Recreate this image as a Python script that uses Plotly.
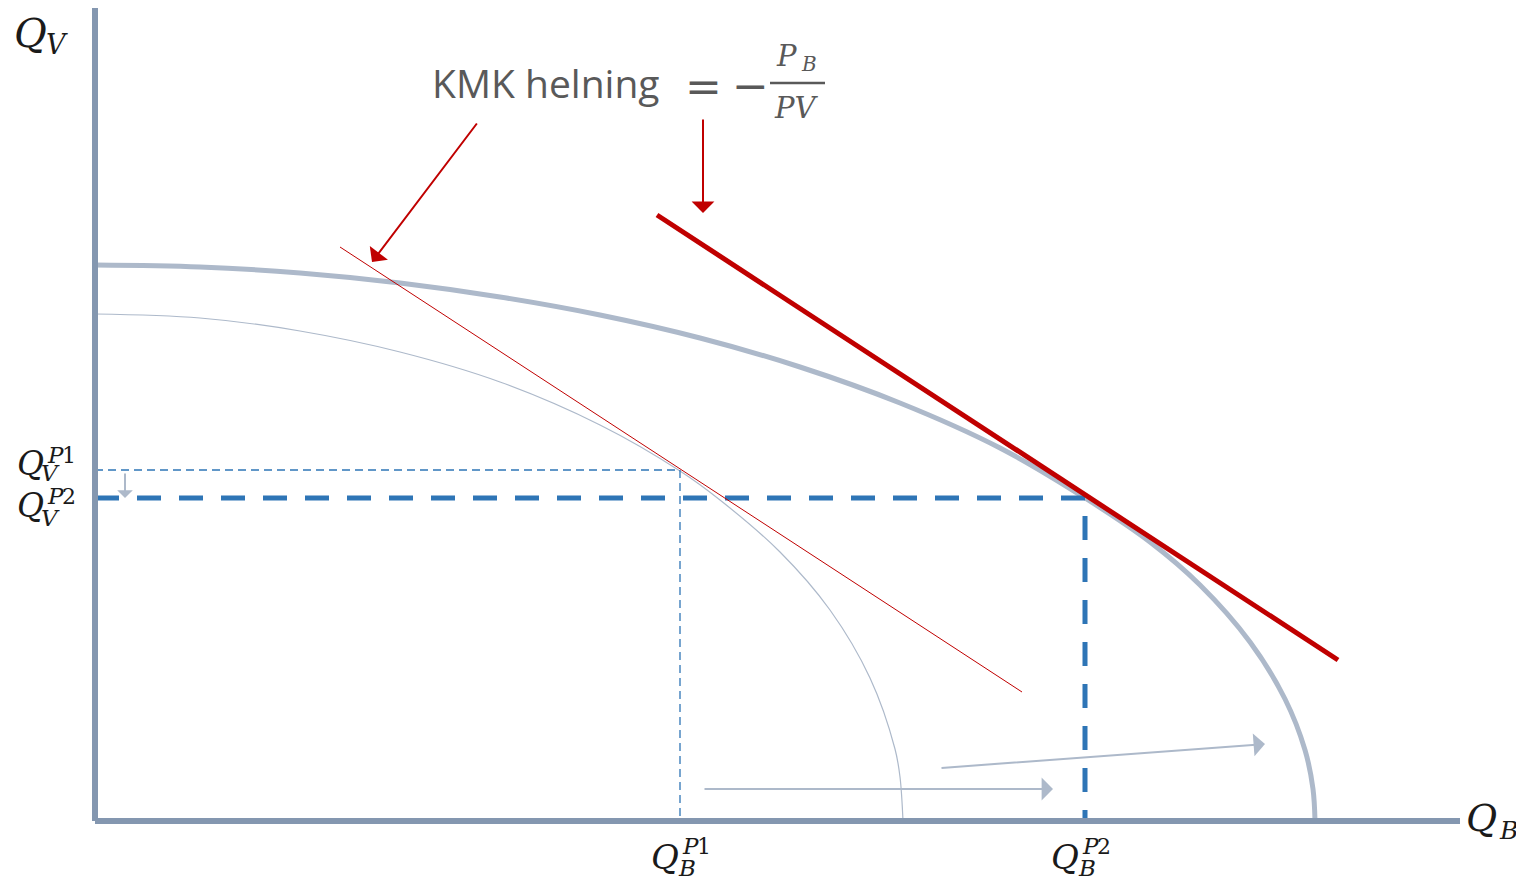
import plotly.graph_objects as go

# ---- data (units: quantity of B on x, quantity of V on y) ----
outer_ppf_x = [0, 10.5, 20.5, 30.5, 40.5, 50.5, 60.5, 70.5, 80.5, 90.5, 99.0, 105.5, 110.5, 115.5, 119.0, 121.0, 121.8, 122.0]
outer_ppf_y = [55.6, 55.4, 54.8, 53.8, 52.4, 50.6, 48.3, 45.4, 41.8, 37.3, 32.3, 27.9, 23.6, 17.9, 12.2, 7.1, 3.2, 0]
inner_ppf_x = [0, 10.5, 20.5, 30.5, 40.5, 50.5, 58.5, 62.5, 68.5, 73.5, 77.5, 80.0, 80.5, 80.8]
inner_ppf_y = [50.7, 50.3, 49.0, 46.9, 43.9, 39.6, 35.0, 32.1, 26.9, 21.1, 14.3, 7.2, 4.4, 0]
price_line_new_x = [56.2, 124.3]
price_line_new_y = [60.6, 16.1]
price_line_old_x = [24.5, 92.7]
price_line_old_y = [57.4, 12.9]
qb_p1, qv_p1 = 58.5, 35.1
qb_p2, qv_p2 = 99.0, 32.3
axis_x_max, axis_y_max = 136.5, 81.3

# arrows: (tail_x, tail_y, head_x, head_y)
red_arrows = [(38.3, 69.9, 27.7, 55.9), (60.8, 70.3, 60.8, 60.8)]
gray_arrows = [(60.8, 3.2, 95.8, 3.2), (84.5, 5.3, 117.0, 7.7)]
small_arrow = (3.0, 34.9, 3.0, 32.3)

AXIS_C = "#8497B0"
PPF_C = "#ADB9CA"
RED = "#C00000"
BLUE = "#2E75B6"
MATH_FONT = "DejaVu Serif"
TXT = "#1a1a1a"

# page has an 8px body margin: figure pixel 0 sits at page pixel 8
OFF = 8


def px(xp, yp):
    return (xp - 95) / 10.0, (821 - yp) / 10.0


fig = go.Figure()

fig.add_trace(go.Scatter(x=inner_ppf_x, y=inner_ppf_y, mode="lines", line=dict(color=PPF_C, width=1.2, shape="spline"), hoverinfo="skip"))
fig.add_trace(go.Scatter(x=outer_ppf_x, y=outer_ppf_y, mode="lines", line=dict(color=PPF_C, width=5, shape="spline"), hoverinfo="skip"))

fig.add_trace(go.Scatter(x=[0, qb_p1, qb_p1], y=[qv_p1, qv_p1, 0], mode="lines", line=dict(color=BLUE, width=1.3, dash="8px,5px"), hoverinfo="skip"))
fig.add_trace(go.Scatter(x=[0, qb_p2, qb_p2], y=[qv_p2, qv_p2, 0], mode="lines", line=dict(color=BLUE, width=5, dash="24px,18px"), hoverinfo="skip"))

fig.add_trace(go.Scatter(x=price_line_old_x, y=price_line_old_y, mode="lines", line=dict(color=RED, width=1), hoverinfo="skip"))
fig.add_trace(go.Scatter(x=price_line_new_x, y=price_line_new_y, mode="lines", line=dict(color=RED, width=5), hoverinfo="skip"))

fig.add_trace(go.Scatter(x=[0, 0], y=[axis_y_max, 0], mode="lines", line=dict(color=AXIS_C, width=6), hoverinfo="skip"))
fig.add_trace(go.Scatter(x=[0, axis_x_max], y=[0, 0], mode="lines", line=dict(color=AXIS_C, width=6), hoverinfo="skip"))

ann = []
for tx, ty, hx, hy in red_arrows:
    ann.append(dict(x=hx, y=hy, ax=tx, ay=ty, xref="x", yref="y", axref="x", ayref="y", text="",
                    showarrow=True, arrowhead=1, arrowsize=1.9, arrowwidth=2, arrowcolor=RED))
for tx, ty, hx, hy in gray_arrows:
    ann.append(dict(x=hx, y=hy, ax=tx, ay=ty, xref="x", yref="y", axref="x", ayref="y", text="",
                    showarrow=True, arrowhead=1, arrowsize=1.9, arrowwidth=2, arrowcolor=PPF_C))
tx, ty, hx, hy = small_arrow
ann.append(dict(x=hx, y=hy, ax=tx, ay=ty, xref="x", yref="y", axref="x", ayref="y", text="",
                showarrow=True, arrowhead=1, arrowsize=1.3, arrowwidth=2, arrowcolor=PPF_C))


def label(text, xp, yp, size, color=TXT, family=MATH_FONT, italic=True, xanchor="center"):
    x, y = px(xp, yp)
    t = f"<i>{text}</i>" if italic else text
    ann.append(dict(x=x, y=y, xref="x", yref="y", text=t, showarrow=False, xanchor=xanchor, yanchor="middle",
                    font=dict(family=family, size=size, color=color)))


# axis titles
label("Q", 30, 33, 40)
label("V", 57, 44, 27)
label("Q", 1481, 818, 38)
label("B", 1508, 830, 25)

# Q_V^P1, Q_V^P2
for (qy, py_, vy, num) in [(463, 455, 473, "1"), (505, 496, 518, "2")]:
    label("Q", 30, qy, 33)
    label("P", 55, py_, 23)
    label(num, 69, py_, 22, italic=False)
    label("V", 50, vy, 23)

# Q_B^P1, Q_B^P2
for (qx, num) in [(665, "1"), (1065, "2")]:
    label("Q", qx, 857, 34)
    label("P", qx + 25, 846, 23)
    label(num, qx + 39, 846, 22, italic=False)
    label("B", qx + 22, 868, 23)

# slope label
GRAY_T = "#595959"
label("KMK helning", 430, 82, 39, color=GRAY_T, family="Open Sans", italic=False, xanchor="left")
label("=", 703, 86, 44, color=GRAY_T, italic=False)
label("\u2212", 750, 85, 44, color=GRAY_T, italic=False)
label("P", 786, 56, 29, color=GRAY_T)
label("B", 809, 64, 20, color=GRAY_T)
label("PV", 796, 108, 29, color=GRAY_T)

fx0, fy = px(770, 83)
fx1, _ = px(825, 83)
shapes = [dict(type="line", x0=fx0, x1=fx1, y0=fy, y1=fy, xref="x", yref="y", line=dict(color=GRAY_T, width=2.5))]

x0, _ = px(OFF, 0)
x1, _ = px(OFF + 1524, 0)
_, y1 = px(0, OFF)
_, y0 = px(0, OFF + 879)

fig.update_layout(
    width=1524, height=879,
    margin=dict(l=0, r=0, t=0, b=0),
    paper_bgcolor="white", plot_bgcolor="white",
    showlegend=False,
    xaxis=dict(range=[x0, x1], visible=False, fixedrange=True),
    yaxis=dict(range=[y0, y1], visible=False, fixedrange=True),
    annotations=ann, shapes=shapes,
)

fig.write_html("out.html")
